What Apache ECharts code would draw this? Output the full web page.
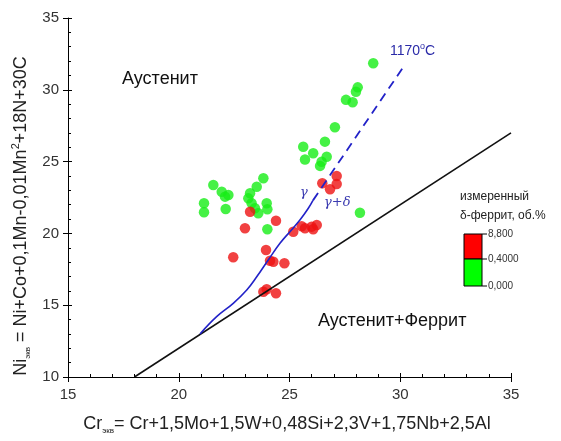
<!DOCTYPE html>
<html><head><meta charset="utf-8">
<script src="https://cdn.jsdelivr.net/npm/echarts@6/dist/echarts.min.js"></script>
<style>html,body{margin:0;padding:0;background:#fff}#c{width:561px;height:441px}</style>
</head><body><div id="c"></div>
<script>
// Data
var greenPoints = [
  [21.56,23.37],[21.94,22.90],[22.24,22.67],[22.09,22.56],[21.14,22.10],[21.14,21.47],[22.12,21.70],
  [23.82,23.84],[23.52,23.25],[23.22,22.79],[23.14,22.44],[23.29,22.10],[23.44,21.75],[23.59,21.40],
  [23.97,22.10],[24.00,21.68],[24.00,20.29],[28.18,21.44],
  [25.62,26.04],[26.07,25.58],[25.70,25.15],[26.60,26.39],[26.68,25.34],[26.45,24.99],[26.38,24.70],
  [27.05,27.39],[28.78,31.85],[28.08,30.17],[28.00,29.87],[27.55,29.30],[27.85,29.13]
];
var redPoints = [
  [27.13,24.00],[27.13,23.44],[26.48,23.49],[26.83,23.07],
  [24.39,20.88],[22.99,20.36],[23.22,21.51],
  [25.17,20.12],[25.55,20.50],[25.70,20.36],[26.00,20.47],[26.23,20.58],[26.07,20.29],
  [23.94,18.84],[22.46,18.34],[24.12,18.10],[24.27,18.03],[24.77,17.92],
  [23.97,16.11],[23.82,15.94],[24.39,15.83]
];
var boundaryLine = [[18,10],[35,27]];
var gammaCurve = [[20.96,13.0],[21.71,14.2],[22.46,15.13],[23.07,16.06],[23.52,16.98],[24.04,18.15],
  [24.57,19.31],[25.02,20.12],[25.47,20.93],[25.85,21.75],[26.06,22.3]];
var gammaDashed = [[26.06,22.3],[30.1,31.5]];
var xTicks = [15,20,25,30,35];
var yTicks = [10,15,20,25,30,35];
var legendLabels = ['8,800','0,4000','0,000'];

var chart = echarts.init(document.getElementById('c'), null, {renderer:'canvas'});
var F = 'Arial, "Liberation Sans", sans-serif';
var axisBase = function(ticks, extra){
  var o = {
    type:'value', min:ticks[0], max:ticks[ticks.length-1], interval:5,
    axisLine:{show:true, lineStyle:{color:'#000', width:1}},
    axisTick:{show:true, inside:false, length:5, lineStyle:{color:'#000'}},
    minorTick:{show:false},
    splitLine:{show:false}
  };
  for (var k in extra) o[k]=extra[k];
  return o;
};
var overlay = function(ticks, pos){
  return {
    type:'value', gridIndex:0, position:pos, min:ticks[0], max:ticks[ticks.length-1], interval:5,
    axisLine:{show:false}, axisLabel:{show:false}, splitLine:{show:false},
    axisTick:{show:true, inside:true, length:4, lineStyle:{color:'#000'}},
    minorTick:{show:true, splitNumber:5, length:3, lineStyle:{color:'#000'}}
  };
};
var richFill = {m:{fontSize:18, fill:'#222', fontFamily:F, lineHeight:22, verticalAlign:'middle'},
          s:{fontSize:8, fill:'#222', fontFamily:F, lineHeight:9, verticalAlign:'bottom'},
          p:{fontSize:11, fill:'#222', fontFamily:F, lineHeight:12, verticalAlign:'top'}};
var option = {
  animation:false,
  backgroundColor:'#fff',
  grid:{left:68, right:50, top:18, bottom:64, containLabel:false},
  xAxis:[
    axisBase(xTicks, {position:'bottom', axisLabel:{color:'#333', fontSize:15, fontFamily:F, margin:10}}),
    overlay(xTicks, 'bottom')
  ],
  yAxis:[
    axisBase(yTicks, {position:'left', axisLabel:{color:'#333', fontSize:15, fontFamily:F, margin:9}}),
    overlay(yTicks, 'left')
  ],
  series:[
    {type:'scatter', data:greenPoints, symbol:'circle', symbolSize:10.5, itemStyle:{color:'#16ee16'}, z:2},
    {type:'scatter', data:redPoints, symbol:'circle', symbolSize:10.5, itemStyle:{color:'#ee1111'}, z:2},
    {type:'line', data:boundaryLine, symbol:'none', lineStyle:{color:'#111', width:1.6}, z:3},
    {type:'line', data:gammaCurve, symbol:'none', smooth:0.4, lineStyle:{color:'#2222c8', width:1.6}, z:3},
    {type:'line', data:gammaDashed, symbol:'none', lineStyle:{color:'#2222c8', width:1.8, type:[9,6]}, z:3}
  ],
  graphic:[
    {type:'text', x:287, y:424, style:{text:'{m|Cr}{s|экв}{m|= Cr+1,5Mo+1,5W+0,48Si+2,3V+1,75Nb+2,5Al}', rich:richFill, align:'center', verticalAlign:'middle'}},
    {type:'text', x:21, y:216, rotation:Math.PI/2, style:{text:'{m|Ni}{s|экв}{m| = Ni+Co+0,1Mn-0,01Mn}{p|2}{m|+18N+30C}', rich:richFill, align:'center', verticalAlign:'middle'}},
    {type:'text', left:122, top:70, style:{text:'Аустенит', font:'18px '+F, fill:'#111'}},
    {type:'text', left:318, top:312, style:{text:'Аустенит+Феррит', font:'18px '+F, fill:'#111'}},
    {type:'text', left:390, top:42, style:{text:'{a|1170}{b|o}{a|C}', rich:{a:{fontSize:14, fontFamily:F, fill:'#2a2aa8', lineHeight:18, verticalAlign:'middle'}, b:{fontSize:9, fontFamily:F, fill:'#2a2aa8', lineHeight:10, verticalAlign:'top'}}}},
    {type:'text', left:300, top:186, style:{text:'γ', font:'italic 13px "DejaVu Serif", "Liberation Serif", serif', fill:'#3a3ab0'}},
    {type:'text', left:324, top:196, style:{text:'γ+δ', font:'italic 13px "DejaVu Serif", "Liberation Serif", serif', fill:'#3a3ab0'}},
    {type:'text', left:460, top:191, style:{text:'измеренный', font:'12px '+F, fill:'#222'}},
    {type:'text', left:460, top:210, style:{text:'δ-феррит, об.%', font:'12px '+F, fill:'#222'}},
    {type:'rect', shape:{x:464, y:234, width:18, height:25}, style:{fill:'#ff0000', stroke:'#000', lineWidth:1}},
    {type:'rect', shape:{x:464, y:259, width:18, height:27}, style:{fill:'#00ff00', stroke:'#000', lineWidth:1}},
    {type:'line', shape:{x1:482, y1:234, x2:487, y2:234}, style:{stroke:'#000', lineWidth:1}},
    {type:'line', shape:{x1:482, y1:259, x2:487, y2:259}, style:{stroke:'#000', lineWidth:1}},
    {type:'line', shape:{x1:482, y1:286, x2:487, y2:286}, style:{stroke:'#000', lineWidth:1}},
    {type:'text', left:488, top:229, style:{text:legendLabels[0], font:'10px '+F, fill:'#333'}},
    {type:'text', left:488, top:254, style:{text:legendLabels[1], font:'10px '+F, fill:'#333'}},
    {type:'text', left:488, top:281, style:{text:legendLabels[2], font:'10px '+F, fill:'#333'}}
  ]
};
chart.setOption(option);
</script></body></html>
